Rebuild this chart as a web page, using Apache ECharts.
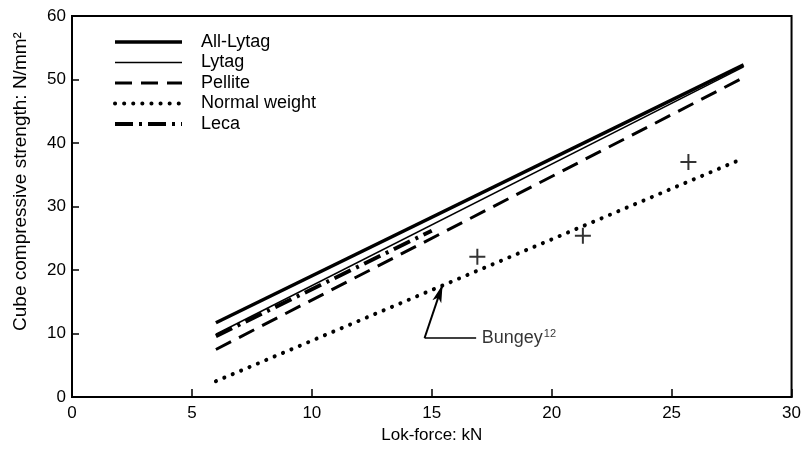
<!DOCTYPE html>
<html>
<head>
<meta charset="utf-8">
<script src="https://cdn.jsdelivr.net/npm/echarts@6/dist/echarts.min.js"></script>
<style>html,body{margin:0;padding:0;background:#fff}#c{width:804px;height:449px}</style>
</head>
<body>
<div id="c"></div>
<script>
// Data
var seriesNames = ['All-Lytag', 'Lytag', 'Pellite', 'Normal weight', 'Leca'];
var allLytag = [[6, 11.7], [28, 52.3]];
var lytag = [[6, 9.9], [28, 52.0]];
var pellite = [[6, 7.5], [28, 50.3]];
var normalWeight = [[6, 2.5], [28, 37.6]];
var leca = [[6, 9.6], [15, 26.2]];
var bungeyPoints = [[16.9, 22.1], [21.3, 25.4], [25.7, 37.0]];
var bungeyArrowFrom = [14.7, 9.3];
var bungeyArrowTo = [15.45, 17.7];
var bungeyLeaderEnd = [16.85, 9.3];
var bungeyLabelAt = [17.0, 9.3];
var xTicks = [0, 5, 10, 15, 20, 25, 30];
var yTicks = [0, 10, 20, 30, 40, 50, 60];

var FONT = 'Liberation Sans, Arial, sans-serif';
var styles = {
  'All-Lytag': {color: '#000', width: 3.5, type: 'solid'},
  'Lytag': {color: '#000', width: 1.5, type: 'solid'},
  'Pellite': {color: '#000', width: 3, type: [17, 9]},
  'Normal weight': {color: '#000', width: 4, type: [0.1, 9], cap: 'round'},
  'Leca': {color: '#000', width: 4, type: [18, 6, 3, 6]}
};
var dataByName = {'All-Lytag': allLytag, 'Lytag': lytag, 'Pellite': pellite, 'Normal weight': normalWeight, 'Leca': leca};

var lineSeries = seriesNames.map(function (n) {
  return {name: n, type: 'line', data: dataByName[n], symbol: 'none', z: n === 'Leca' ? 4 : 3,
          lineStyle: styles[n], itemStyle: {color: '#000'}};
});
var legendData = seriesNames.map(function (n) {
  return {name: n, lineStyle: {width: styles[n].width}};
});

var chart = echarts.init(document.getElementById('c'), null, {renderer: 'canvas'});
var option = {
  animation: false,
  backgroundColor: '#fff',
  textStyle: {fontFamily: FONT, color: '#000'},
  grid: {left: 72, right: 11, top: 16, bottom: 50, show: true, borderColor: '#000', borderWidth: 2, backgroundColor: 'transparent'},
  legend: {
    data: legendData,
    orient: 'vertical',
    left: 108,
    top: 28,
    itemWidth: 67,
    itemHeight: 14,
    itemGap: 2.5,
    itemStyle: {color: 'rgba(0,0,0,0)', borderColor: 'rgba(0,0,0,0)', borderWidth: 0, opacity: 0},
    textStyle: {fontSize: 18, fontFamily: FONT, color: '#000', padding: [0, 0, 0, 14]},
    selectedMode: false
  },
  xAxis: {
    type: 'value', min: xTicks[0], max: xTicks[xTicks.length - 1], interval: 5,
    name: 'Lok-force: kN', nameLocation: 'middle', nameGap: 26,
    nameTextStyle: {fontSize: 17, fontFamily: FONT, color: '#000'},
    axisLine: {show: true, lineStyle: {color: '#000', width: 2}},
    axisTick: {show: true, inside: true, length: 8, lineStyle: {color: '#000', width: 1.5}},
    axisLabel: {fontSize: 17, fontFamily: FONT, color: '#000', margin: 8},
    splitLine: {show: false}
  },
  yAxis: {
    type: 'value', min: yTicks[0], max: yTicks[yTicks.length - 1], interval: 10,
    name: 'Cube compressive strength: N/mm²', nameLocation: 'middle', nameGap: 42,
    nameTextStyle: {fontSize: 19, fontFamily: FONT, color: '#000', padding: [0, 0, 0, 50]},
    axisLine: {show: true, lineStyle: {color: '#000', width: 2}},
    axisTick: {show: true, inside: true, length: 7, lineStyle: {color: '#000', width: 1.5}},
    axisLabel: {fontSize: 17, fontFamily: FONT, color: '#000', margin: 6},
    splitLine: {show: false}
  },
  series: lineSeries.concat([
    {name: 'Bungey', type: 'scatter', data: bungeyPoints, z: 5,
     symbol: 'path://M0,7H16V9H0Z M7,0H9V16H7Z', symbolSize: 16,
     itemStyle: {color: '#000'},
     markLine: {
       silent: true, animation: false,
       lineStyle: {color: '#000', width: 2, type: 'solid'},
       label: {show: false},
       data: [
         [{coord: bungeyArrowFrom, symbol: 'none'}, {coord: bungeyArrowTo, symbol: 'arrow', symbolSize: [7, 18]}],
         [{coord: bungeyArrowFrom, symbol: 'none', lineStyle: {width: 1.5}}, {coord: bungeyLeaderEnd, symbol: 'none'}]
       ]
     }},
    {name: 'BungeyLabel', type: 'scatter', data: [bungeyLabelAt], symbolSize: 0, z: 5, silent: true,
     label: {show: true, position: 'right', distance: 2, color: '#000', formatter: '{a|Bungey}{b|12}',
       rich: {a: {fontSize: 18, fontFamily: FONT, color: '#000'},
              b: {fontSize: 11, fontFamily: FONT, color: '#000', padding: [0, 0, 9, 1]}}}}
  ])
};
chart.setOption(option);
</script>
</body>
</html>
